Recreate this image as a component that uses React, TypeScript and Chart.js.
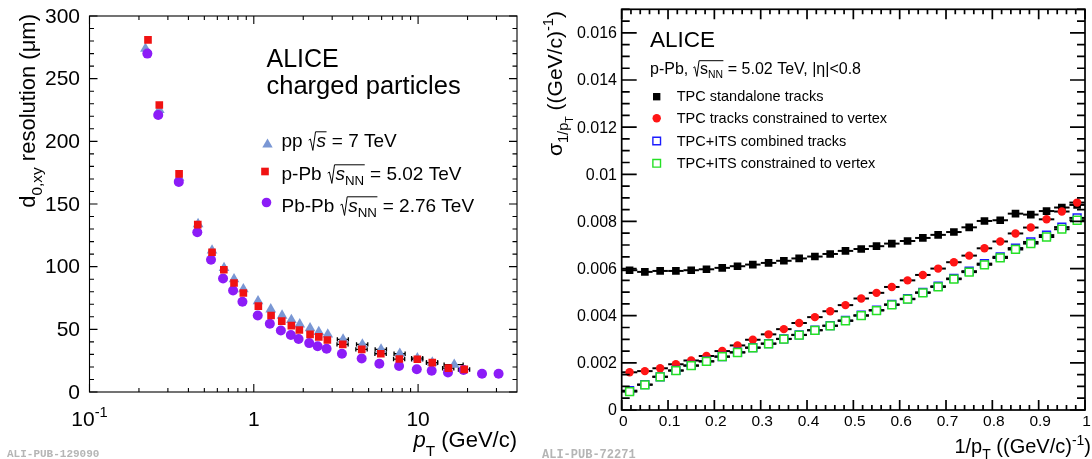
import React, { useEffect, useRef } from "react";
import { Chart, registerables } from "chart.js";

Chart.register(...registerables);

const FONT = '"Liberation Sans", Arial, Helvetica, sans-serif';
const MONO = '"Liberation Mono", "DejaVu Sans Mono", monospace';

// ---------------- Left panel: d0,xy resolution vs pT ----------------
const ppPt = [0.219, 0.266, 0.351, 0.458, 0.557, 0.659, 0.758, 0.864, 1.061, 1.268, 1.486, 1.693, 1.904, 2.2, 2.486, 2.82, 3.495, 4.58, 5.95, 7.74, 9.9, 12.2, 16.6];
const ppRes = [274, 225, 171, 134, 113, 99, 90, 82, 72.5, 66, 61, 57.5, 54, 51, 48, 46, 42, 38, 34, 30.5, 27, 23.5, 21.8];
const ppXErr = [0, 0, 0, 0, 0, 0, 0, 0, 0, 0, 0, 0, 0, 0, 0, 0, 0.27, 0.36, 0.47, 0.6, 0.77, 0.95, 2.2];

const pPbPt = [0.227, 0.266, 0.351, 0.456, 0.557, 0.657, 0.758, 0.864, 1.066, 1.274, 1.48, 1.693, 1.894, 2.2, 2.486, 2.804, 3.48, 4.54, 5.93, 7.69, 9.9, 12.2, 15.3, 19.1];
const pPbRes = [281, 229, 174, 133.5, 111.5, 97.5, 87, 79, 68.5, 61, 56.5, 53, 49.5, 46, 44, 41.5, 38, 34, 30.5, 26.3, 26.1, 23.4, 19, 18];
const pPbXErr = [0, 0, 0, 0, 0, 0, 0, 0, 0, 0, 0, 0, 0, 0, 0, 0, 0.27, 0.36, 0.47, 0.6, 0.77, 0.95, 1.2, 1.5];

const PbPbPt = [0.225, 0.262, 0.3495, 0.453, 0.549, 0.65, 0.748, 0.853, 1.057, 1.252, 1.461, 1.681, 1.873, 2.174, 2.446, 2.774, 3.44, 4.536, 5.81, 7.66, 9.82, 12.1, 15.2, 18.9, 24.5, 30.9];
const PbPbRes = [270, 221, 167.5, 127.5, 105.5, 90.5, 81, 72, 61, 54.5, 49, 45.5, 42.3, 39, 36.5, 34.5, 30.5, 26.7, 22.6, 20.8, 18.1, 17, 15.6, 17.6, 14.6, 14.6];

const leftYTicks = [0, 50, 100, 150, 200, 250, 300];
const leftYTickLabels = ["0", "50", "100", "150", "200", "250", "300"];
const leftXTicks = [0.1, 1, 10];
const leftXTickLabels = ["10^-1", "1", "10"];

// ---------------- Right panel: sigma(1/pT) vs 1/pT ----------------
const invPt = [0.017, 0.05, 0.083, 0.117, 0.15, 0.183, 0.217, 0.25, 0.283, 0.317, 0.35, 0.383, 0.417, 0.45, 0.483, 0.517, 0.55, 0.583, 0.617, 0.65, 0.683, 0.717, 0.75, 0.783, 0.817, 0.85, 0.883, 0.917, 0.95, 0.983];
const binHalfWidth = 0.0167;
const tpcStandalone = [0.00593, 0.00586, 0.0059, 0.0059, 0.00593, 0.00597, 0.00603, 0.0061, 0.00617, 0.00624, 0.00633, 0.00643, 0.00651, 0.00662, 0.00675, 0.00683, 0.00695, 0.00706, 0.00717, 0.0073, 0.00743, 0.00755, 0.00775, 0.00802, 0.00805, 0.00833, 0.00829, 0.00844, 0.00859, 0.0087];
const tpcConstrained = [0.0016, 0.00165, 0.00177, 0.00194, 0.0021, 0.00229, 0.0025, 0.00274, 0.00298, 0.00321, 0.00343, 0.00369, 0.00394, 0.00419, 0.00445, 0.00473, 0.00497, 0.00522, 0.0055, 0.00573, 0.006, 0.00627, 0.00655, 0.00686, 0.00715, 0.00749, 0.00774, 0.00809, 0.00842, 0.0088];
const itsCombined = [0.00082, 0.00108, 0.00141, 0.00168, 0.00189, 0.00207, 0.00227, 0.00245, 0.00265, 0.00282, 0.00302, 0.00319, 0.00339, 0.00358, 0.0038, 0.00402, 0.00424, 0.00448, 0.00472, 0.00499, 0.00525, 0.00558, 0.00589, 0.00621, 0.0065, 0.00687, 0.00713, 0.00742, 0.00776, 0.00815];
const itsConstrained = [0.00078, 0.00107, 0.00141, 0.00167, 0.00188, 0.00206, 0.00226, 0.00244, 0.00264, 0.00281, 0.00301, 0.00318, 0.00338, 0.00357, 0.00378, 0.004, 0.00422, 0.00446, 0.0047, 0.00497, 0.00522, 0.00555, 0.00585, 0.00616, 0.00645, 0.00681, 0.00706, 0.00734, 0.00767, 0.00805];

const rightXTicks = [0, 0.1, 0.2, 0.3, 0.4, 0.5, 0.6, 0.7, 0.8, 0.9, 1];
const rightXTickLabels = ["0", "0.1", "0.2", "0.3", "0.4", "0.5", "0.6", "0.7", "0.8", "0.9", "1"];
const rightYTicks = [0, 0.002, 0.004, 0.006, 0.008, 0.01, 0.012, 0.014, 0.016];
const rightYTickLabels = ["0", "0.002", "0.004", "0.006", "0.008", "0.01", "0.012", "0.014", "0.016"];

const rightLegend = [
  "TPC standalone tracks",
  "TPC tracks constrained to vertex",
  "TPC+ITS combined tracks",
  "TPC+ITS constrained to vertex",
];

// ---------------- rich text helper ----------------
type Seg = { t?: string; s?: number; dy?: number; it?: boolean; rad?: "open" | "close" };

function segFont(g: Seg, size: number) {
  const fs = size * (g.s ?? 1);
  return `${g.it ? "italic " : ""}${fs}px ${FONT}`;
}

function measureRich(ctx: CanvasRenderingContext2D, segs: Seg[], size: number) {
  let w = 0;
  for (const g of segs) {
    if (g.rad === "open") { w += size * 0.45; continue; }
    if (g.rad === "close") { w += size * 0.03; continue; }
    ctx.font = segFont(g, size);
    w += ctx.measureText(g.t ?? "").width;
  }
  return w;
}

function drawRich(ctx: CanvasRenderingContext2D, x: number, y: number, segs: Seg[], size: number, align: "left" | "right" | "center" = "left", color = "#000") {
  const w = measureRich(ctx, segs, size);
  let cx = align === "right" ? x - w : align === "center" ? x - w / 2 : x;
  let radStart = 0;
  ctx.save();
  ctx.fillStyle = color;
  ctx.strokeStyle = color;
  ctx.textAlign = "left";
  ctx.textBaseline = "alphabetic";
  for (const g of segs) {
    if (g.rad === "open") {
      ctx.lineWidth = Math.max(1, size * 0.05);
      ctx.beginPath();
      ctx.moveTo(cx + size * 0.04, y - size * 0.36);
      ctx.lineTo(cx + size * 0.13, y - size * 0.42);
      ctx.lineTo(cx + size * 0.26, y + size * 0.18);
      ctx.lineTo(cx + size * 0.4, y - size * 0.8);
      ctx.stroke();
      radStart = cx + size * 0.4;
      cx += size * 0.45;
      continue;
    }
    if (g.rad === "close") {
      ctx.lineWidth = Math.max(1, size * 0.05);
      ctx.beginPath();
      ctx.moveTo(radStart, y - size * 0.8);
      ctx.lineTo(cx + size * 0.03, y - size * 0.8);
      ctx.stroke();
      cx += size * 0.03;
      continue;
    }
    ctx.font = segFont(g, size);
    ctx.fillText(g.t ?? "", cx, y + (g.dy ?? 0) * size);
    cx += ctx.measureText(g.t ?? "").width;
  }
  ctx.restore();
}

function drawFrame(chart: any, xMajor: number[], xMinor: number[], yMajor: number[], yMinor: number[], L: { xM: number; xm: number; yM: number; ym: number }, lw: number) {
  const { ctx, chartArea: a, scales } = chart;
  const x = scales.x;
  const y = scales.y;
  ctx.save();
  ctx.strokeStyle = "#000";
  ctx.lineWidth = lw;
  ctx.beginPath();
  const xt = (vals: number[], len: number) => {
    for (const v of vals) {
      const px = x.getPixelForValue(v);
      if (px < a.left - 0.5 || px > a.right + 0.5) continue;
      ctx.moveTo(px, a.bottom); ctx.lineTo(px, a.bottom - len);
      ctx.moveTo(px, a.top); ctx.lineTo(px, a.top + len);
    }
  };
  const yt = (vals: number[], len: number) => {
    for (const v of vals) {
      const py = y.getPixelForValue(v);
      if (py < a.top - 0.5 || py > a.bottom + 0.5) continue;
      ctx.moveTo(a.left, py); ctx.lineTo(a.left + len, py);
      ctx.moveTo(a.right, py); ctx.lineTo(a.right - len, py);
    }
  };
  xt(xMajor, L.xM); xt(xMinor, L.xm); yt(yMajor, L.yM); yt(yMinor, L.ym);
  ctx.stroke();
  ctx.strokeRect(a.left, a.top, a.right - a.left, a.bottom - a.top);
  ctx.restore();
}

function drawMarker(ctx: CanvasRenderingContext2D, style: string, x: number, y: number, r: number, fill: string, stroke?: string, lw = 1) {
  ctx.save();
  ctx.beginPath();
  if (style === "rect") {
    const s = r * Math.SQRT1_2;
    ctx.rect(x - s, y - s, 2 * s, 2 * s);
  } else if (style === "triangle") {
    ctx.moveTo(x, y - r);
    ctx.lineTo(x + r * Math.sin(2 * Math.PI / 3), y - r * Math.cos(2 * Math.PI / 3));
    ctx.lineTo(x + r * Math.sin(4 * Math.PI / 3), y - r * Math.cos(4 * Math.PI / 3));
    ctx.closePath();
  } else {
    ctx.arc(x, y, r, 0, Math.PI * 2);
  }
  ctx.fillStyle = fill;
  ctx.fill();
  if (stroke) { ctx.strokeStyle = stroke; ctx.lineWidth = lw; ctx.stroke(); }
  ctx.restore();
}

// ---------------- colors ----------------
const C_PP = "#7a97d4";
const C_PPB = "#f01212";
const C_PBPB = "#8c1cf7";
const C_BLACK = "#000000";
const C_RED = "#ff1515";
const C_BLUE = "#1c1cff";
const C_GREEN = "#25e025";

// ---------------- plugins ----------------
const leftDecor = {
  id: "leftDecor",
  beforeDatasetsDraw(chart: any) {
    const { ctx, scales: { x, y } } = chart;
    ctx.save();
    ctx.strokeStyle = "#000";
    ctx.lineWidth = 1.3;
    chart.data.datasets.forEach((ds: any) => {
      if (!ds.xErr) return;
      ds.data.forEach((p: any, i: number) => {
        const e = ds.xErr[i];
        if (!e) return;
        const x0 = x.getPixelForValue(p.x - e);
        const x1 = x.getPixelForValue(p.x + e);
        const py = y.getPixelForValue(p.y);
        ctx.beginPath();
        ctx.moveTo(x0, py); ctx.lineTo(x1, py);
        ctx.moveTo(x0, py - 2.2); ctx.lineTo(x0, py + 2.2);
        ctx.moveTo(x1, py - 2.2); ctx.lineTo(x1, py + 2.2);
        ctx.stroke();
      });
    });
    ctx.restore();
  },
  afterDraw(chart: any) {
    const { ctx, scales: { x, y } } = chart;
    const xMinor: number[] = [];
    for (const k of [0.1, 1, 10]) for (let m = 2; m <= 9; m++) if (m * k < 40) xMinor.push(m * k);
    const yMinor: number[] = [];
    for (let v = 0; v <= 300; v += 10) yMinor.push(v);
    drawFrame(chart, leftXTicks, xMinor, leftYTicks, yMinor, { xM: 8, xm: 4, yM: 8, ym: 4.5 }, 1.1);

    // tick labels
    ctx.save();
    ctx.fillStyle = "#000";
    ctx.font = `21px ${FONT}`;
    ctx.textAlign = "right";
    ctx.textBaseline = "middle";
    leftYTicks.forEach((v, i) => ctx.fillText(leftYTickLabels[i], 80, y.getPixelForValue(v) + 1));
    ctx.restore();
    leftXTicks.forEach((v, i) => {
      const lab = leftXTickLabels[i];
      const px = x.getPixelForValue(v);
      if (lab.includes("^")) {
        const [b, e] = lab.split("^");
        drawRich(ctx, px, 426, [{ t: b }, { t: e, s: 0.7, dy: -0.42 }], 21, "center");
      } else {
        drawRich(ctx, px, 426, [{ t: lab }], 21, "center");
      }
    });

    // axis titles
    drawRich(ctx, 517, 447, [{ t: "p", it: true }, { t: "T", s: 0.7, dy: 0.42 }, { t: " (GeV/c)" }], 22, "right");
    ctx.save();
    ctx.translate(35, 14);
    ctx.rotate(-Math.PI / 2);
    drawRich(ctx, 0, 0, [{ t: "d" }, { t: "0,xy", s: 0.7, dy: 0.3 }, { t: " resolution (μm)" }], 22, "right");
    ctx.restore();

    // ALICE label
    drawRich(ctx, 266.5, 66.5, [{ t: "ALICE" }], 25, "left");
    drawRich(ctx, 266.5, 94, [{ t: "charged particles" }], 25.5, "left");

    // legend
    drawMarker(ctx, "triangle", 267.5, 144.5, 6, C_PP);
    drawMarker(ctx, "rect", 265, 171.5, 5.4, C_PPB);
    drawMarker(ctx, "circle", 266.5, 202.5, 4.8, C_PBPB);
    const fs = 19;
    drawRich(ctx, 281.5, 147, [{ t: "pp " }, { rad: "open" }, { t: "s", it: true }, { rad: "close" }, { t: " = 7 TeV" }], fs);
    drawRich(ctx, 281.5, 180, [{ t: "p-Pb " }, { rad: "open" }, { t: "s", it: true }, { t: "NN", s: 0.7, dy: 0.25 }, { rad: "close" }, { t: " = 5.02 TeV" }], fs);
    drawRich(ctx, 281.5, 212, [{ t: "Pb-Pb " }, { rad: "open" }, { t: "s", it: true }, { t: "NN", s: 0.7, dy: 0.25 }, { rad: "close" }, { t: " = 2.76 TeV" }], fs);

    // watermark
    ctx.save();
    ctx.fillStyle = "#b5b5b5";
    ctx.font = `bold 11px ${MONO}`;
    ctx.textAlign = "left";
    ctx.textBaseline = "alphabetic";
    ctx.fillText("ALI-PUB-129090", 7, 457);
    ctx.restore();
  },
};

const rightDecor = {
  id: "rightDecor",
  beforeDatasetsDraw(chart: any) {
    const { ctx, scales: { x, y } } = chart;
    ctx.save();
    ctx.strokeStyle = "#000";
    ctx.lineWidth = 2;
    chart.data.datasets.forEach((ds: any) => {
      ds.data.forEach((p: any) => {
        const x0 = x.getPixelForValue(p.x - binHalfWidth);
        const x1 = x.getPixelForValue(p.x + binHalfWidth);
        const py = y.getPixelForValue(p.y);
        ctx.beginPath();
        ctx.moveTo(x0, py); ctx.lineTo(x1, py);
        ctx.stroke();
      });
    });
    ctx.restore();
  },
  afterDraw(chart: any) {
    const { ctx, scales: { x, y } } = chart;
    const xMinor: number[] = [];
    for (let i = 0; i <= 50; i++) xMinor.push(i * 0.02);
    const yMinor: number[] = [];
    for (let i = 0; i <= 34; i++) yMinor.push(i * 0.0005);
    drawFrame(chart, rightXTicks, xMinor, rightYTicks, yMinor, { xM: 10, xm: 5, yM: 15, ym: 8 }, 1.7);

    ctx.save();
    ctx.fillStyle = "#000";
    ctx.font = `16px ${FONT}`;
    ctx.textAlign = "right";
    ctx.textBaseline = "middle";
    rightYTicks.forEach((v, i) => ctx.fillText(rightYTickLabels[i], 77, y.getPixelForValue(v) + 1));
    ctx.font = `15.5px ${FONT}`;
    ctx.textAlign = "center";
    ctx.textBaseline = "alphabetic";
    rightXTicks.forEach((v, i) => ctx.fillText(rightXTickLabels[i], x.getPixelForValue(v) + 1.5, 426));
    ctx.restore();

    // axis titles
    drawRich(ctx, 551, 453, [{ t: "1/p" }, { t: "T", s: 0.7, dy: 0.3 }, { t: " ((GeV/c)" }, { t: "-1", s: 0.7, dy: -0.42 }, { t: ")" }], 20, "right");
    ctx.save();
    ctx.translate(22, 11);
    ctx.rotate(-Math.PI / 2);
    drawRich(ctx, 0, 0, [{ t: "σ" }, { t: "1/p", s: 0.7, dy: 0.3 }, { t: "T", s: 0.5, dy: 0.5 }, { t: " ((GeV/c)" }, { t: "-1", s: 0.7, dy: -0.42 }, { t: ")" }], 21, "right");
    ctx.restore();

    // ALICE + subtitle
    drawRich(ctx, 110, 46.5, [{ t: "ALICE" }], 22.5, "left");
    drawRich(ctx, 110, 73.5, [{ t: "p-Pb, " }, { rad: "open" }, { t: "s" }, { t: "NN", s: 0.65, dy: 0.25 }, { rad: "close" }, { t: " = 5.02 TeV, |η|<0.8" }], 16, "left");

    // legend
    const ly = [96.7, 118.3, 141, 163.3];
    drawMarker(ctx, "rect", 116.7, ly[0], 5.2, C_BLACK);
    drawMarker(ctx, "circle", 116.7, ly[1], 4.2, C_RED);
    drawMarker(ctx, "rect", 116.7, ly[2], 5.4, "#fff", C_BLUE, 1.4);
    drawMarker(ctx, "rect", 116.7, ly[3], 5.4, "#fff", C_GREEN, 1.4);
    ctx.save();
    ctx.fillStyle = "#000";
    ctx.font = `14.5px ${FONT}`;
    ctx.textAlign = "left";
    ctx.textBaseline = "alphabetic";
    rightLegend.forEach((t, i) => ctx.fillText(t, 136.7, ly[i] + 4.7));
    ctx.restore();

    // watermark
    ctx.save();
    ctx.fillStyle = "#b5b5b5";
    ctx.font = `bold 12px ${MONO}`;
    ctx.textAlign = "left";
    ctx.textBaseline = "alphabetic";
    ctx.fillText("ALI-PUB-72271", 2, 458);
    ctx.restore();
  },
};

function pts(xs: number[], ys: number[]) {
  return xs.map((x, i) => ({ x, y: ys[i] }));
}

export default function App() {
  const leftRef = useRef<HTMLCanvasElement>(null);
  const rightRef = useRef<HTMLCanvasElement>(null);

  useEffect(() => {
    const left = new Chart(leftRef.current as HTMLCanvasElement, {
      type: "scatter",
      data: {
        datasets: [
          { label: "p-Pb 5.02 TeV", data: pts(pPbPt, pPbRes), xErr: pPbXErr, pointStyle: "rect", pointRadius: 5.4, pointBackgroundColor: C_PPB, pointBorderWidth: 0 } as any,
          { label: "Pb-Pb 2.76 TeV", data: pts(PbPbPt, PbPbRes), pointStyle: "circle", pointRadius: 5, pointBackgroundColor: C_PBPB, pointBorderWidth: 0 } as any,
          { label: "pp 7 TeV", data: pts(ppPt, ppRes), xErr: ppXErr, pointStyle: "triangle", pointRadius: 6.2, pointBackgroundColor: C_PP, pointBorderWidth: 0 } as any,
        ],
      },
      options: {
        animation: false,
        responsive: false,
        maintainAspectRatio: false,
        events: [],
        layout: { padding: { left: 89.5, right: 23, top: 16, bottom: 67 } },
        scales: {
          x: { type: "logarithmic", min: 0.1, max: 40, display: false },
          y: { type: "linear", min: 0, max: 300, display: false },
        },
        plugins: { legend: { display: false }, tooltip: { enabled: false } },
      },
      plugins: [leftDecor],
    });

    const right = new Chart(rightRef.current as HTMLCanvasElement, {
      type: "scatter",
      data: {
        datasets: [
          { label: rightLegend[3], data: pts(invPt, itsConstrained), pointStyle: "rect", pointRadius: 5.5, pointBackgroundColor: "#fff", pointBorderColor: C_GREEN, pointBorderWidth: 1.5 } as any,
          { label: rightLegend[2], data: pts(invPt, itsCombined), pointStyle: "rect", pointRadius: 5.5, pointBackgroundColor: "#fff", pointBorderColor: C_BLUE, pointBorderWidth: 1.5 } as any,
          { label: rightLegend[1], data: pts(invPt, tpcConstrained), pointStyle: "circle", pointRadius: 4.2, pointBackgroundColor: C_RED, pointBorderWidth: 0 } as any,
          { label: rightLegend[0], data: pts(invPt, tpcStandalone), pointStyle: "rect", pointRadius: 5.4, pointBackgroundColor: C_BLACK, pointBorderWidth: 0 } as any,
        ],
      },
      options: {
        animation: false,
        responsive: false,
        maintainAspectRatio: false,
        events: [],
        layout: { padding: { left: 81.7, right: 1.3, top: 9.3, bottom: 49 } },
        scales: {
          x: { type: "linear", min: 0, max: 1, display: false },
          y: { type: "linear", min: 0, max: 0.017, display: false },
        },
        plugins: { legend: { display: false }, tooltip: { enabled: false } },
      },
      plugins: [rightDecor],
    });

    return () => {
      left.destroy();
      right.destroy();
    };
  }, []);

  return (
    <div style={{ position: "absolute", left: 0, top: 0, width: 1092, height: 459, background: "#fff", overflow: "hidden" }}>
      <canvas ref={leftRef} width={540} height={459} style={{ position: "absolute", left: 0, top: 0, width: 540, height: 459 }} />
      <canvas ref={rightRef} width={552} height={459} style={{ position: "absolute", left: 540, top: 0, width: 552, height: 459 }} />
    </div>
  );
}
